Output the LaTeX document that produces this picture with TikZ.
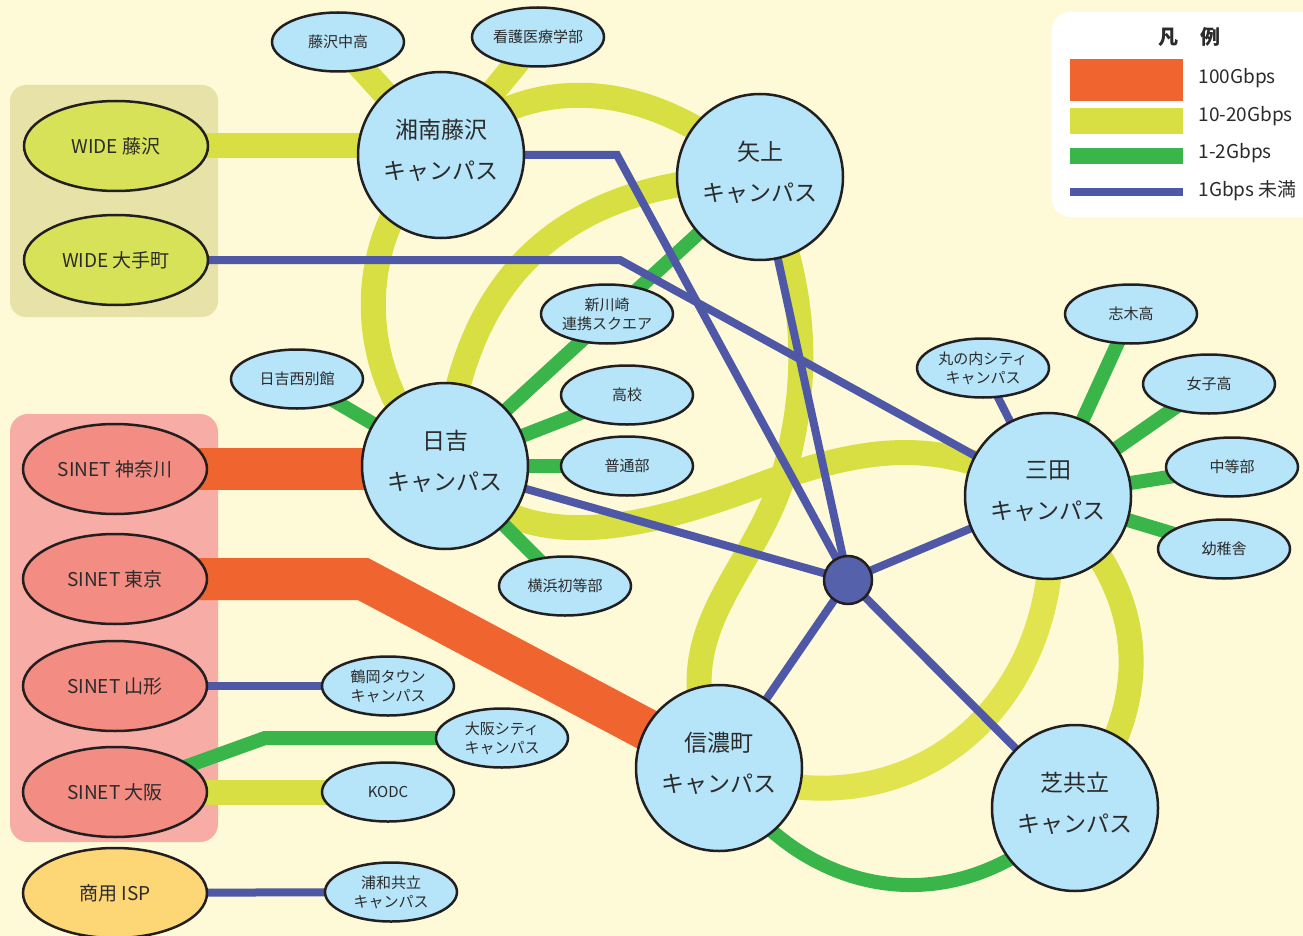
\documentclass[tikz,border=0pt]{standalone}
\usepackage{fontspec}
\setmainfont{Noto Sans CJK JP}
\usetikzlibrary{shapes.geometric}
\pgfdeclarelayer{boxes}
\pgfdeclarelayer{edges}
\pgfsetlayers{boxes,edges,main}
\definecolor{bgc}{HTML}{FEFAD7}
\definecolor{campc}{HTML}{B6E4F9}
\definecolor{orangec}{HTML}{F06430}
\definecolor{yellowc}{HTML}{D7DF42}
\definecolor{yellowl}{HTML}{E1E44E}
\definecolor{greenc}{HTML}{3AB54A}
\definecolor{bluec}{HTML}{4E58A6}
\definecolor{hubc}{HTML}{5562AB}
\definecolor{sinetbox}{HTML}{F7ACA6}
\definecolor{sinetc}{HTML}{F38C82}
\definecolor{widebox}{HTML}{E7E2A8}
\definecolor{widec}{HTML}{D8E258}
\definecolor{ispc}{HTML}{FDD676}
\definecolor{outl}{HTML}{231F20}
\definecolor{txt}{HTML}{2B2B2B}
\begin{document}
\begin{tikzpicture}[x=1pt,y=-1pt,
  campus/.style={circle,draw=outl,line width=2.5pt,fill=campc,minimum size=166pt,inner sep=0pt,align=center,text=txt,text depth=11pt,font=\fontsize{23}{41}\selectfont},
  small/.style={ellipse,draw=outl,line width=2.5pt,fill=campc,minimum width=132pt,minimum height=59pt,inner sep=0pt,align=center,text=txt,font=\fontsize{15}{19}\selectfont},
  ext/.style={ellipse,draw=outl,line width=2.5pt,minimum width=184pt,minimum height=90pt,inner sep=0pt,text=txt,font=\fontsize{19}{23}\selectfont},
  sinet/.style={ext,fill=sinetc},
  wide/.style={ext,fill=widec},
  isp/.style={ext,fill=ispc},
  hubnode/.style={circle,draw=outl,line width=2.5pt,fill=hubc,minimum size=48pt,inner sep=0pt},
  lorange/.style={draw=orangec,line width=42pt},
  lyellow/.style={draw=yellowc,line width=25pt},
  lgreen/.style={draw=greenc,line width=14pt},
  lblue/.style={draw=bluec,line width=8pt},
  lgtext/.style={anchor=west,text=txt,font=\fontsize{19}{23}\selectfont}
]
\useasboundingbox (0,0) rectangle (1303,936);
\begin{pgfonlayer}{boxes}
\fill[bgc] (0,0) rectangle (1303,936);
\fill[widebox,rounded corners=16pt] (10,85) rectangle (218,317);
\fill[sinetbox,rounded corners=18pt] (10,414) rectangle (218,842);
\fill[white,rounded corners=18pt] (1052,12) rectangle (1340,217);
\end{pgfonlayer}

% external nodes
\node[wide] (wf) at (116,146) {WIDE 藤沢};
\node[wide] (wo) at (116,260) {WIDE 大手町};
\node[sinet] (sk) at (115,469) {SINET 神奈川};
\node[sinet] (st) at (115,579) {SINET 東京};
\node[sinet] (sy) at (115,686) {SINET 山形};
\node[sinet] (so) at (115,792) {SINET 大阪};
\node[isp] (isp) at (115,893) {商用 ISP};

% campuses
\node[campus] (sfc) at (441,155) {湘南藤沢\\キャンパス};
\node[campus] (yg) at (760,177) {矢上\\キャンパス};
\node[campus] (hy) at (445,466) {日吉\\キャンパス};
\node[campus] (mt) at (1048,496) {三田\\キャンパス};
\node[campus] (sh) at (719,768) {信濃町\\キャンパス};
\node[campus] (sb) at (1075,808) {芝共立\\キャンパス};

% small sites
\node[small] (fjc) at (338,42) {藤沢中高};
\node[small] (kango) at (538,37) {看護医療学部};
\node[small] (shk) at (607,314) {新川崎\\連携スクエア};
\node[small] (nb) at (297,379) {日吉西別館};
\node[small] (hs) at (627,395) {高校};
\node[small] (fu) at (627,466) {普通部};
\node[small] (yo) at (565,586) {横浜初等部};
\node[small] (mar) at (983,368) {丸の内シティ\\キャンパス};
\node[small] (shiki) at (1131,314) {志木高};
\node[small] (jo) at (1209,384) {女子高};
\node[small] (chu) at (1232,467) {中等部};
\node[small] (yochi) at (1224,549) {幼稚舎};
\node[small] (tsuru) at (388,686) {鶴岡タウン\\キャンパス};
\node[small] (osc) at (502,738) {大阪シティ\\キャンパス};
\node[small] (kodc) at (388,792) {KODC};
\node[small] (urawa) at (391,892) {浦和共立\\キャンパス};
\node[hubnode] (hub) at (848,580) {};

% legend
\node[text=txt,font=\fontsize{20}{24}\selectfont\bfseries] (lt) at (1189,37) {凡\hspace{22pt}例};
\fill[orangec] (1070,59) rectangle (1183,101);
\fill[yellowc] (1070,108) rectangle (1183,134);
\fill[greenc] (1070,148) rectangle (1183,164);
\fill[bluec] (1070,188) rectangle (1183,196);
\node[lgtext] (l1) at (1195,78) {100Gbps};
\node[lgtext] (l2) at (1195,116) {10-20Gbps};
\node[lgtext] (l3) at (1195,153) {1-2Gbps};
\node[lgtext] (l4) at (1195,191) {1Gbps 未満};

% bend points
\coordinate (b1) at (363,579);
\coordinate (b2) at (265,738);
\coordinate (b3) at (617,155);
\coordinate (b4) at (620,260);
\coordinate (m1) at (785,470);
\coordinate (m2) at (700,700);
\coordinate (m3) at (760,485);

\begin{pgfonlayer}{edges}
% 100G
\draw[lorange] (sk.center) -- (sk.center -| hy.center);
\draw[lorange] (st.center) -- (b1) -- (sh.center);
% 10-20G
\draw[lyellow] (wf.center) -- (wf.center -| sfc.center);
\draw[lyellow] (so.center) -- (kodc.center);
\draw[lyellow] (fjc.center) -- (sfc.center);
\draw[lyellow] (kango.center) -- (sfc.center);
\draw[lyellow] (sfc.center) .. controls (520,72) and (650,72) .. (yg.center);
\draw[lyellow] (sfc.center) .. controls (350,230) and (350,380) .. (hy.center);
\draw[lyellow] (hy.center) .. controls (460,280) and (560,180) .. (yg.center);
\draw[lyellow] (yg.center) .. controls (805,280) and (812,370) .. (m1) .. controls (760,560) and (690,610) .. (m2) -- (sh.center);
\draw[lyellow] (hy.center) .. controls (520,560) and (640,530) .. (m3) .. controls (880,440) and (950,440) .. (mt.center);
\draw[lyellow,draw=yellowl] (mt.center) .. controls (1075,690) and (920,845) .. (sh.center);
\draw[lyellow] (mt.center) .. controls (1140,580) and (1165,690) .. (sb.center);
% 1-2G
\draw[lgreen] (hy.center) -- (yg.center);
\draw[lgreen] (hy.center) -- (hs.center);
\draw[lgreen] (hy.center) -- (fu.center);
\draw[lgreen] (hy.center) -- (yo.center);
\draw[lgreen] (hy.center) -- (nb.center);
\draw[lgreen] (mt.center) -- (shiki.center);
\draw[lgreen] (mt.center) -- (jo.center);
\draw[lgreen] (mt.center) -- (chu.center);
\draw[lgreen] (mt.center) -- (yochi.center);
\draw[lgreen] (so.center) -- (b2) -- (osc.center);
\draw[lgreen] (sh.center) .. controls (800,900) and (960,930) .. (sb.center);
% <1G
\draw[lblue] (sfc.center) -- (b3) -- (hub.center);
\draw[lblue] (wo.center) -- (b4) -- (mt.center);
\draw[lblue] (yg.center) -- (hub.center);
\draw[lblue] (hy.center) -- (hub.center);
\draw[lblue] (mt.center) -- (hub.center);
\draw[lblue] (sh.center) -- (hub.center);
\draw[lblue] (sb.center) -- (hub.center);
\draw[lblue] (mar.center) -- (mt.center);
\draw[lblue] (sy.center) -- (tsuru.center);
\draw[lblue] (isp.center) -- (urawa.center);
\end{pgfonlayer}
\end{tikzpicture}
\end{document}
